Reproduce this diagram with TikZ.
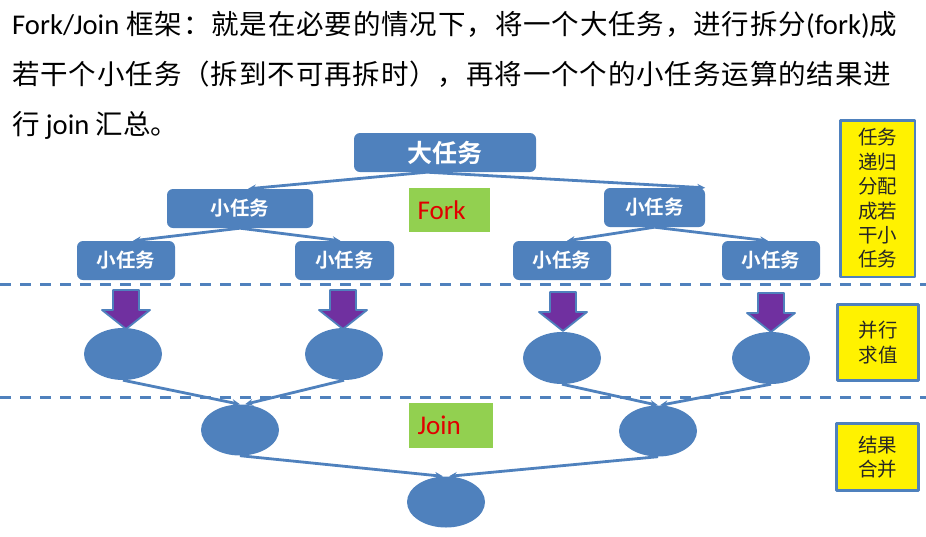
\documentclass[tikz,border=0pt]{standalone}
\usepackage{fontspec}
\setmainfont{Noto Sans CJK SC}[BoldFont={Noto Sans CJK SC Bold}]
\newfontfamily\lat{Carlito}[Scale=1.04]
\usetikzlibrary{arrows.meta,shapes.geometric}
\definecolor{taskblue}{HTML}{4F81BD}
\definecolor{forkgreen}{HTML}{92D050}
\definecolor{tagred}{HTML}{E00000}
\definecolor{evalpurple}{HTML}{7030A0}
% spread CJK characters evenly along a justified line
\makeatletter
\count@="4E00
\loop\ifnum\count@<"A000 \XeTeXcharclass\count@=7 \advance\count@ by 1 \repeat
\makeatother
\XeTeXcharclass"FF08=7 \XeTeXcharclass"FF09=7 \XeTeXcharclass"FF0C=7
\XeTeXcharclass"FF1A=7 \XeTeXcharclass"3002=7
\XeTeXinterchartoks 7 7 = {\hskip 0pt plus 1pt\relax}
\newcommand\spreadline[2]{\hbox to #1{\XeTeXinterchartokenstate=1 #2}}
\begin{document}
\begin{tikzpicture}[x=1pt,y=-1pt, line join=round, >={Stealth[length=8pt,width=7pt]},
	task/.style={rectangle, rounded corners=6pt, fill=taskblue, text=white, inner sep=0pt, minimum height=39pt, font=\fontsize{19.5}{20}\selectfont\bfseries},
	tag/.style={rectangle, fill=forkgreen, text=tagred, inner ysep=0pt, inner xsep=8.5pt, align=left, font=\lat\fontsize{26}{26}\selectfont},
	note/.style={rectangle, fill=yellow, draw=taskblue, line width=2.5pt, inner sep=0pt, align=center, text=black!85, font=\fontsize{19.5}{24.4}\selectfont},
	ball/.style={ellipse, fill=taskblue, inner sep=0pt, minimum width=78pt, minimum height=52pt},
	link/.style={->, draw=taskblue, line width=2.8pt},
	sep/.style={draw=taskblue, line width=3pt, dash pattern=on 11pt off 9pt},
	block/.style={fill=evalpurple, draw=taskblue, line width=1.8pt},
	intro/.style={anchor=base west, inner sep=0pt, font=\fontsize{27.5}{30}\selectfont}]
	\useasboundingbox (0,0) rectangle (926,536);
	%% text
	\node[intro] (line1) at (12,34.5)
	{\spreadline{885pt}{{\lat Fork/Join}\hskip 7pt 框架：就是在必要的情况下，将一个大任务，进行拆分{\lat (fork)}成}};
	\node[intro] (line2) at (12,84.5)
	{\spreadline{879pt}{若干个小任务（拆到不可再拆时），再将一个个的小任务运算的结果进}};
	\node[intro] (line3) at (12,134.5) {行 {\lat join} 汇总。};
	%% separators
	\draw[sep] (0,284) -- (926,284);
	\draw[sep] (0,397) -- (926,397);
	%% fork
	\node[task, minimum width=182pt, font=\fontsize{25}{25}\selectfont\bfseries] (big) at (445,152.5) {大任务};
	\node[task, minimum width=146pt] (s1) at (240,208.5) {小任务};
	\node[task, minimum width=101pt] (s2) at (654.5,207.5) {小任务};
	\node[task, minimum width=98pt] (t1) at (126,260.5) {小任务};
	\node[task, minimum width=99pt] (t2) at (344.5,260.5) {小任务};
	\node[task, minimum width=98pt] (t3) at (562,260.5) {小任务};
	\node[task, minimum width=98pt] (t4) at (771,260.5) {小任务};
	\node[tag, text width=64pt, minimum height=44pt] (fork) at (449.5,210) {Fork};
	\node[tag, text width=67pt, minimum height=45pt] (join) at (451,425.5) {Join};
	%% notes
	\node[note, minimum width=74.5pt, minimum height=156.5pt] (n1) at (877.5,198.5) {任务\\递归\\分配\\成若\\干小\\任务};
	\node[note, minimum width=81pt, minimum height=76pt] (n2) at (878,342.5) {并行\\求值};
	\node[note, minimum width=82pt, minimum height=67pt] (n3) at (877.5,457) {结果\\合并};
	%% compute
	\foreach \x/\y in {126/290,343/290,563/292,771/293}
	\draw[block] (\x-13,\y) -- (\x+13,\y) -- (\x+13,\y+20) -- (\x+24,\y+20) -- (\x,\y+39) -- (\x-24,\y+20) -- (\x-13,\y+20) -- cycle;
	\node[ball] (e1) at (123,354) {};
	\node[ball] (e2) at (344,354) {};
	\node[ball] (e3) at (562,358) {};
	\node[ball] (e4) at (771,358) {};
	%% join
	\node[ball, minimum height=51pt] (j1) at (240,430) {};
	\node[ball, minimum height=51pt] (j2) at (658,431) {};
	\node[ball, minimum height=51pt] (root) at (446,502) {};
	%% links
	\draw[link] ([xshift=-18pt]big.south) -- ([xshift=8pt]s1.north);
	\draw[link] ([xshift=-18pt]big.south) -- (s2.north east);
	\draw[link] (s1.south) -- ([xshift=7pt]t1.north);
	\draw[link] (s1.south) -- ([xshift=-4pt]t2.north);
	\draw[link] (s2.south) -- ([xshift=5pt]t3.north);
	\draw[link] (s2.south) -- ([xshift=-3pt]t4.north);
	\draw[link] (e1.south) -- (j1.north);
	\draw[link] (e2.south) -- ([xshift=5pt]j1.north);
	\draw[link] (e3.south) -- (j2.north);
	\draw[link] (e4.south) -- ([xshift=2pt]j2.north);
	\draw[link] (j1.south) -- ([xshift=-3pt]root.north);
	\draw[link] (j2.south) -- ([xshift=3pt]root.north);
\end{tikzpicture}
\end{document}
